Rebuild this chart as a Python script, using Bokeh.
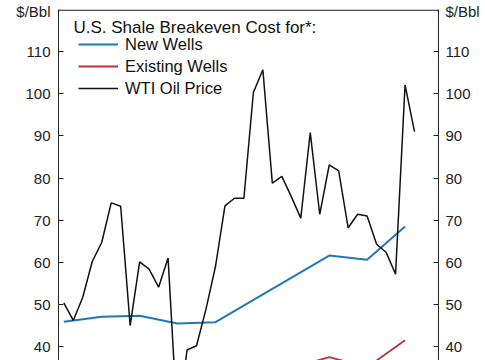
from bokeh.plotting import figure
from bokeh.models import (Range1d, LinearAxis, Label, Legend, LegendItem, Span,
                          FixedTicker, BoxAnnotation)
from bokeh.embed import file_html
from bokeh.resources import INLINE

# ---- data ----
wti_period = list(range(38))
wti_price = [50.4, 46.2, 51.7, 60.2, 64.7, 74.1, 73.3, 45.0, 60.1, 58.4, 54.1, 61.0,
             21.0, 39.2, 40.2, 48.9, 59.0, 73.4, 75.2, 75.2, 100.3, 105.7, 78.8, 80.4,
             75.6, 70.5, 90.8, 71.4, 83.1, 81.7, 68.2, 71.4, 71.0, 64.3, 62.4, 57.2,
             102.1, 91.0]
new_period = [0, 4, 8, 12, 16, 28, 32, 36]
new_cost = [45.9, 47.1, 47.3, 45.5, 45.8, 61.6, 60.6, 68.5]
exist_period = [24, 28, 32, 36]
exist_cost = [34.9, 37.5, 35.1, 41.5]
y_ticks = [40, 50, 60, 70, 80, 90, 100, 110]
y_tick_labels = ["40", "50", "60", "70", "80", "90", "100", "110"]
series_names = ["New Wells", "Existing Wells", "WTI Oil Price"]
legend_title = "U.S. Shale Breakeven Cost for*:"
unit_label = "$/Bbl"

FONT = "Liberation Sans"
AX = "#222222"
Y_TOP = 120
UNIT_POS = 119.5   # unit text sits at the top of each axis

p = figure(width=485, height=360, output_backend="svg", toolbar_location=None,
           x_range=Range1d(-0.56, 39.53), y_range=Range1d(36.7, Y_TOP),
           x_axis_location=None, y_axis_location="left",
           min_border_left=58, min_border_right=47, min_border_top=9, min_border_bottom=0)
p.grid.grid_line_color = None
p.outline_line_color = None
p.background_fill_color = "white"
p.border_fill_color = "white"

right = LinearAxis()
p.add_layout(right, "right")

overrides = {float(t): s for t, s in zip(y_ticks, y_tick_labels)}
overrides[UNIT_POS] = unit_label
for ax, standoff in ((p.yaxis[0], 8), (right, 7)):
    ax.ticker = FixedTicker(ticks=y_ticks + [UNIT_POS])
    ax.major_label_overrides = overrides
    ax.axis_line_color = AX
    ax.major_tick_line_color = AX
    ax.minor_tick_line_color = None
    ax.major_tick_in = 5
    ax.major_tick_out = 0
    ax.major_label_standoff = standoff
    ax.major_label_text_font = FONT
    ax.major_label_text_font_size = "15px"
    ax.major_label_text_color = AX

# hide the tick marks that belong to the unit texts
for l, r in ((0.8, 6.5), (373.5, 379.2)):
    p.add_layout(BoxAnnotation(left=l, right=r, top=349.6, bottom=347.0,
                               left_units="screen", right_units="screen",
                               top_units="screen", bottom_units="screen",
                               fill_color="white", fill_alpha=1, line_color=None,
                               level="overlay"))

p.add_layout(Span(location=119.85, dimension="width", line_color=AX, line_width=1.2))

r_new = p.line(new_period, new_cost, line_color="#2277bb", line_width=2)
r_exist = p.line(exist_period, exist_cost, line_color="#b8333f", line_width=1.8)
r_wti = p.line(wti_period, wti_price, line_color="#111111", line_width=1.5)

legend = Legend(items=[LegendItem(label=series_names[0], renderers=[r_new]),
                       LegendItem(label=series_names[1], renderers=[r_exist]),
                       LegendItem(label=series_names[2], renderers=[r_wti])],
                location=(20, 262), padding=0, margin=0, border_line_color=None,
                background_fill_alpha=0, glyph_width=40, glyph_height=20,
                label_height=20, spacing=2, label_standoff=7,
                label_text_font=FONT, label_text_font_size="16.5px",
                label_text_color="#111111")
p.add_layout(legend)

p.add_layout(Label(x=15, y=333, x_units="screen", y_units="screen", text=legend_title,
                   text_font=FONT, text_font_size="17px", text_color="#111111",
                   text_baseline="alphabetic"))

open("out.html", "w").write(file_html(p, INLINE))
